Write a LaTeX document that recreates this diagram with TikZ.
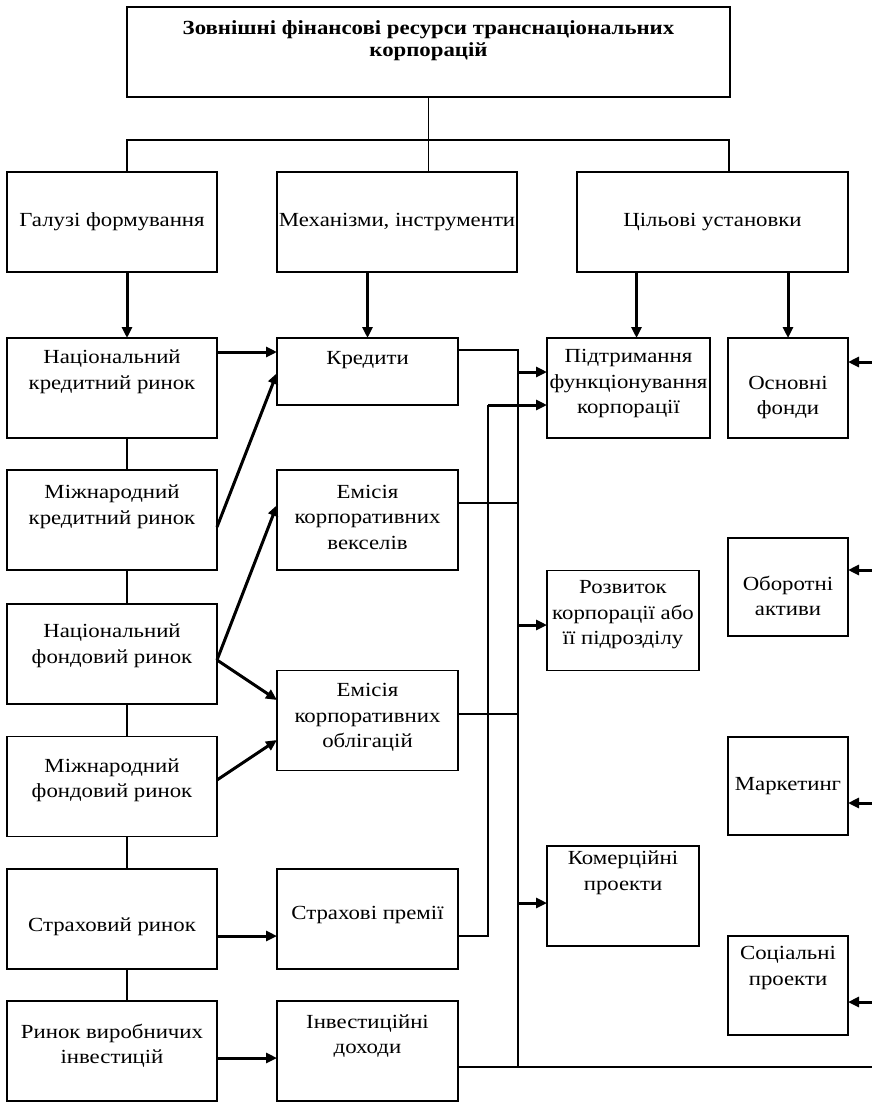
\documentclass[tikz,border=0pt]{standalone}
\usepackage{fontspec}
\setmainfont{Liberation Serif}[FakeStretch=1.14]
\usetikzlibrary{arrows.meta}
\tikzset{
  every picture/.style={line width=1.3pt, font=\fontsize{20}{25.5}\selectfont},
  box/.style={draw, inner sep=0pt, outer sep=0pt},
  src/.style={box, minimum width=210pt, minimum height=100pt},
  tool/.style={box, minimum width=181pt, minimum height=100pt},
  aim/.style={box, minimum width=152pt, minimum height=100pt},
  asset/.style={box, minimum width=120pt, minimum height=98pt},
  txt/.style={anchor=center, align=center, inner sep=0pt},
  flow/.style={-{Triangle[length=11pt,width=10pt]}, line width=3pt},
  back/.style={{Triangle[length=11pt,width=10pt]}-, line width=3pt},
}

\begin{document}
\begin{tikzpicture}[x=1pt, y=-1pt]
  \useasboundingbox (0,0) rectangle (872,1103);
  % header
  \node[box, minimum width=603pt, minimum height=90pt,
    label={[txt, yshift=11pt, font=\bfseries\fontsize{20}{22}\selectfont]center:{Зовнішні фінансові ресурси транснаціональних\\корпорацій}}] (top) at (428.5,52) {};
  \node[src, label={[txt]center:{Галузі формування}}] (galuzi) at (112,222) {};
  \node[box, minimum width=240pt, minimum height=100pt, label={[txt]center:{Механізми, інструменти}}] (mekh) at (397,222) {};
  \node[box, minimum width=271pt, minimum height=100pt, label={[txt]center:{Цільові установки}}] (cil) at (712.5,222) {};
  % markets
  \node[src, label={[txt, yshift=16pt]center:{Національний\\кредитний ринок}}] (nkr) at (112,388) {};
  \node[src, label={[txt, yshift=13pt]center:{Міжнародний\\кредитний ринок}}] (mkr) at (112,520) {};
  \node[src, label={[txt, yshift=8pt]center:{Національний\\фондовий ринок}}] (nfr) at (112,654) {};
  \node[src, label={[txt, yshift=6pt]center:{Міжнародний\\фондовий ринок}}] (mfr) at (112,786.5) {};
  \node[src, label={[txt, yshift=-8pt]center:{Страховий ринок}}] (str) at (112,919) {};
  \node[src, label={[txt, yshift=5pt]center:{Ринок виробничих\\інвестицій}}] (rvi) at (112,1051) {};
  % instruments
  \node[tool, minimum height=67pt, label={[txt, yshift=11.5pt]center:{Кредити}}] (kred) at (367.5,371.5) {};
  \node[tool, label={[txt, yshift=3pt]center:{Емісія\\корпоративних\\векселів}}] (veks) at (367.5,520) {};
  \node[tool, label={[txt, yshift=3pt]center:{Емісія\\корпоративних\\облігацій}}] (obl) at (367.5,720.5) {};
  \node[tool, label={[txt, yshift=4pt]center:{Страхові премії}}] (strp) at (367.5,919) {};
  \node[tool, label={[txt, yshift=15pt]center:{Інвестиційні\\доходи}}] (inv) at (367.5,1051) {};
  % aims
  \node[aim, minimum width=163pt, label={[txt, yshift=4pt]center:{Підтримання\\функціонування\\корпорації}}] (pidt) at (628.5,388) {};
  \node[aim, label={[txt, yshift=5.5pt]center:{Розвиток\\корпорації або\\її підрозділу}}] (rozv) at (623,620.5) {};
  \node[aim, label={[txt, yshift=23pt]center:{Комерційні\\проекти}}] (kom) at (623,896) {};
  \node[asset, minimum height=100pt, label={[txt, yshift=-9.5pt]center:{Основні\\фонди}}] (osn) at (788,388) {};
  \node[asset, label={[txt, yshift=-9pt]center:{Оборотні\\активи}}] (obor) at (788,587) {};
  \node[asset, label={[txt]center:{Маркетинг}}] (mark) at (788,786) {};
  \node[asset, minimum height=99pt, label={[txt, yshift=17.5pt]center:{Соціальні\\проекти}}] (soc) at (788,985.5) {};

  \coordinate (busL) at (127,140);
  \coordinate (busR) at (729,140);
  \coordinate (spB) at (518,1067);
  \coordinate (edge) at (872,1067);
  \coordinate (loop) at (488,405);

  % header bus
  \draw (top.south) -- (top.south |- busL);
  \draw (galuzi.north -| busL) |- (busR) -- (cil.north -| busR);
  \draw (top.south |- busL) -- (top.south |- mekh.north);
  \draw[flow] (galuzi.south -| busL) -- (nkr.north -| busL);
  \draw[flow] (mekh.south -| kred.north) -- (kred.north);
  \draw[back] ([xshift=8pt]pidt.north) -- ++(0,-66);
  \draw[flow] (cil.south -| osn.north) -- (osn.north);
  % market chain
  \foreach \a/\b in {nkr/mkr,mkr/nfr,nfr/mfr,mfr/str,str/rvi}
    \draw (\a.south -| busL) -- (\b.north -| busL);
  % markets to instruments
  \draw[flow] ([yshift=36pt]nkr.east) -- ([yshift=19.5pt]kred.west);
  \draw[flow] ([yshift=-7pt]mkr.east) -- ([yshift=-1.5pt]kred.west);
  \draw[flow] ([yshift=-6pt]nfr.east) -- ([yshift=15pt]veks.west);
  \draw[flow] ([yshift=-6pt]nfr.east) -- ([yshift=20.5pt]obl.west);
  \draw[flow] ([yshift=6.5pt]mfr.east) -- ([yshift=-19.5pt]obl.west);
  \draw[flow] ([yshift=-17pt]str.east) -- ([yshift=-17pt]strp.west);
  \draw[flow] ([yshift=-7pt]rvi.east) -- ([yshift=-7pt]inv.west);
  % instruments to spine
  \draw ([yshift=21.5pt]kred.east) -| (spB);
  \draw ([yshift=17pt]veks.east) -- ++(60,0);
  \draw ([yshift=6.5pt]obl.east) -- ++(60,0);
  \draw ([yshift=-16pt]inv.east) -- (edge);
  \draw ([yshift=-17pt]strp.east) -| (loop);
  \draw[back] ([yshift=-17pt]pidt.west) -- (loop);
  % spine to aims
  \draw[back] ([yshift=16pt]pidt.west) -- ++(-29,0);
  \draw[back] ([yshift=-4.5pt]rozv.west) -- ++(-29,0);
  \draw[back] ([yshift=-7pt]kom.west) -- ++(-29,0);
  % from the right edge
  \draw[back] ([yshift=26pt]osn.east) -- ++(24,0);
  \draw[back] ([yshift=17pt]obor.east) -- ++(24,0);
  \draw[back] ([yshift=-17pt]mark.east) -- ++(24,0);
  \draw[back] ([yshift=-16.5pt]soc.east) -- ++(24,0);
\end{tikzpicture}
\end{document}
